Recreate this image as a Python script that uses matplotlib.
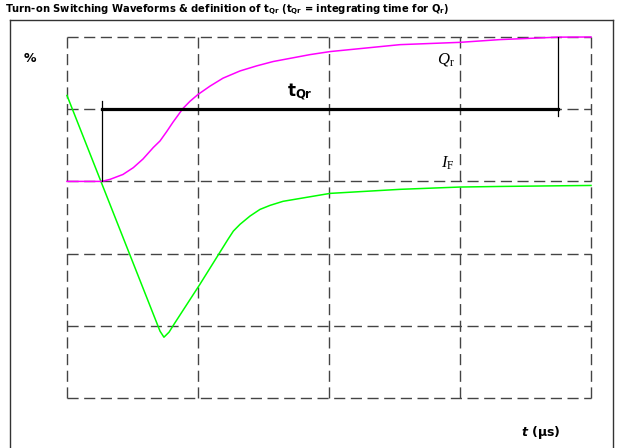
import matplotlib
matplotlib.use("Agg")
import matplotlib.pyplot as plt
from matplotlib.lines import Line2D

plt.rcParams['mathtext.fontset'] = 'custom'
plt.rcParams['mathtext.rm'] = 'Liberation Serif'
plt.rcParams['mathtext.it'] = 'Liberation Serif:italic'
plt.rcParams['mathtext.bf'] = 'DejaVu Sans:bold'
plt.rcParams['mathtext.bfit'] = 'DejaVu Sans:italic:bold'

# IF waveform (time in grid divisions, value in %)
t_if = [0.0, 0.710, 0.740, 0.779, 0.817, 1.015, 1.229, 1.270, 1.321, 1.397, 1.473,
        1.550, 1.649, 2.008, 2.542, 3.0, 3.305, 4.0]
if_pct = [59.5, -103.7, -107.9, -104.4, -98.9, -71.2, -40.1, -34.4, -29.7, -24.0,
          -19.4, -16.6, -13.8, -8.3, -5.5, -3.9, -3.5, -2.8]

# Qr waveform
t_qr = [0.0, 0.265, 0.328, 0.427, 0.506, 0.580, 0.659, 0.710, 0.761, 0.809, 0.885,
        0.939, 1.0, 1.092, 1.191, 1.321, 1.448, 1.573, 1.855, 2.008, 2.542, 3.0,
        3.305, 3.748, 4.0]
qr_pct = [0.0, 0.0, 1.4, 4.8, 9.5, 15.5, 23.5, 28.0, 34.5, 41.0, 50.5,
          55.5, 60.2, 66.0, 71.5, 76.5, 80.0, 83.0, 87.8, 89.9, 94.7, 96.3,
          98.2, 99.9, 100.0]

# tQr definition
tqr_start = 0.270
tqr_end = 3.748
tqr_level = 50

x_grid = [0, 1, 2, 3, 4]
y_grid = [-150, -100, -50, 0, 50, 100]

fig = plt.figure(figsize=(6.22, 4.48), dpi=100)
W, H = 622, 448
ax = fig.add_axes([67 / W, (H - 398) / H, (591 - 67) / W, (398 - 37) / H])
ax.set_xlim(0, 4)
ax.set_ylim(-150, 100)
ax.axis('off')

grid_kw = dict(color='#444444', lw=1.0, ls=(0, (8, 4)), clip_on=False, zorder=1)
for x in x_grid:
    ax.axvline(x, **grid_kw)
for y in y_grid:
    ax.axhline(y, **grid_kw)

ax.plot(t_if, if_pct, color='#00ff00', lw=1.1, zorder=3, clip_on=False)
ax.plot(t_qr, qr_pct, color='#ff00ff', lw=1.1, zorder=3, clip_on=False)

# tQr markers
ax.plot([tqr_start, tqr_end], [tqr_level, tqr_level], color='black', lw=2.3, zorder=4)
ax.plot([tqr_start, tqr_start], [0, 55.5], color='black', lw=0.9, zorder=4)
ax.plot([tqr_end, tqr_end], [100, 45.3], color='black', lw=0.9, zorder=4)

ax.text(1.78, 62, r'$\mathbf{t}_{\mathbf{Qr}}$', fontsize=12, ha='center', va='center')
ax.text(2.96, 85, r'$Q_\mathrm{r}$', fontsize=12, ha='right', va='center')
ax.text(2.96, 13, r'$I_\mathrm{F}$', fontsize=12, ha='right', va='center')

# outer frame
frame_kw = dict(color='#333333', lw=1.0)
fig.add_artist(Line2D([10 / W, 10 / W], [0, 1 - 20 / H], **frame_kw))
fig.add_artist(Line2D([613 / W, 613 / W], [0, 1 - 20 / H], **frame_kw))
fig.add_artist(Line2D([10 / W, 613 / W], [1 - 20 / H, 1 - 20 / H], **frame_kw))

fig.text(5 / W, 1 - 10 / H,
         r'Turn-on Switching Waveforms & definition of $\mathbf{t}_{\mathbf{Qr}}$ '
         r'($\mathbf{t}_{\mathbf{Qr}}$ = integrating time for Q$_{\mathbf{r}}$)',
         fontsize=7.2, fontweight='bold', ha='left', va='center')
fig.text(30 / W, 1 - 59 / H, '%', fontsize=9, fontweight='bold', ha='center', va='center')
fig.text(541 / W, 1 - 432 / H, r'$\mathbfit{t}$ (µs)', fontsize=9, fontweight='bold',
         ha='center', va='center')

fig.savefig('out.png', dpi=100)
